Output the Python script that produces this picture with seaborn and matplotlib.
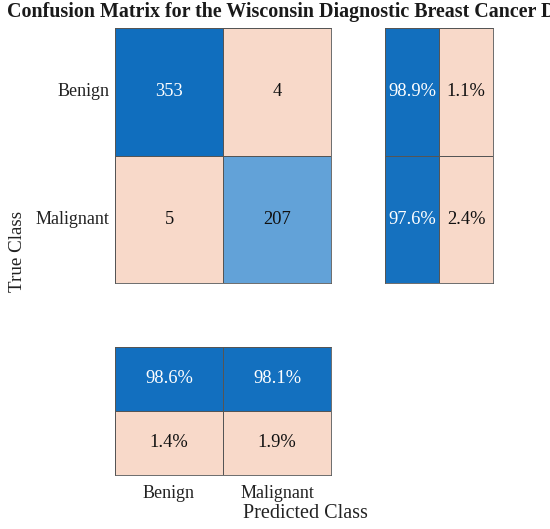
import numpy as np
import matplotlib
matplotlib.use("Agg")
import matplotlib.pyplot as plt
from matplotlib.colors import LinearSegmentedColormap, ListedColormap
import seaborn as sns

classes = ["Benign", "Malignant"]
counts = np.array([[353, 4],
                   [5, 207]])
# row summary (per true class): correct %, wrong %
row_correct = [98.9, 97.6]
row_wrong = [1.1, 2.4]
# column summary (per predicted class)
col_correct = [98.6, 98.1]
col_wrong = [1.4, 1.9]

title = "Confusion Matrix for the Wisconsin Diagnostic Breast Cancer Dataset"

sns.set_theme(style="white")
plt.rcParams["font.family"] = ["Liberation Serif", "DejaVu Serif"]

blue = LinearSegmentedColormap.from_list("cm_blue", ["#D6ECFD", "#106EBE"])
peach = ListedColormap(["#F8D9C9"])
edge = "#555555"
lw = 0.6
fs = 13.3


def draw_block(ax, values, good, labels, vmax):
    # good = True for the "correct" cells (blue), False for errors (peach)
    sns.heatmap(values, mask=~good, cmap=blue, vmin=0, vmax=vmax, cbar=False,
                annot=labels, fmt="", linewidths=lw, linecolor=edge,
                annot_kws={"fontsize": fs}, ax=ax)
    for t, v in zip(ax.texts, values[good]):
        t.set_color("white" if v > 0.8 * vmax else "#111111")
    sns.heatmap(values, mask=good, cmap=peach, cbar=False,
                annot=labels, fmt="", linewidths=lw, linecolor=edge,
                annot_kws={"fontsize": fs, "color": "#111111"}, ax=ax)
    for s in ax.spines.values():
        s.set_visible(True)
        s.set_color(edge)
        s.set_linewidth(lw)
    ax.tick_params(length=0)
    ax.set_xticks([])
    ax.set_yticks([])


fig = plt.figure(figsize=(5.5, 5.29), dpi=100)
ax_main = fig.add_axes([0.2091, 0.4650, 0.3927, 0.4820])
ax_row = fig.add_axes([0.7000, 0.4650, 0.1964, 0.4820])
ax_col = fig.add_axes([0.2091, 0.1021, 0.3927, 0.2420])

# main matrix
diag = np.eye(2, dtype=bool)
draw_block(ax_main, counts.astype(float), diag, counts.astype(str), counts.max())
ax_main.set_yticks([0.5, 1.5])
ax_main.set_yticklabels(classes, rotation=0, fontsize=13, color="#222222")
ax_main.tick_params(axis="y", pad=4)

# row summary
row_vals = np.column_stack([row_correct, row_wrong])
row_good = np.array([[True, False], [True, False]])
row_lbl = np.array([[f"{v:.1f}%" for v in r] for r in row_vals])
draw_block(ax_row, row_vals, row_good, row_lbl, 100)

# column summary
col_vals = np.vstack([col_correct, col_wrong])
col_good = np.array([[True, True], [False, False]])
col_lbl = np.array([[f"{v:.1f}%" for v in r] for r in col_vals])
draw_block(ax_col, col_vals, col_good, col_lbl, 100)
ax_col.set_xticks([0.5, 1.5])
ax_col.set_xticklabels(classes, fontsize=13, color="#222222")
ax_col.tick_params(axis="x", pad=7)

fig.text(7 / 550, 1 - 12 / 529, title, ha="left", va="center",
         fontsize=14.45, fontweight="bold", color="#1a1a1a")
fig.text(18 / 550, 1 - 251 / 529, "True Class", rotation=90, ha="center",
         va="center", fontsize=13.7, color="#222222")
fig.text(305 / 550, 1 - 514 / 529, "Predicted Class", ha="center",
         va="center", fontsize=14.5, color="#222222")

fig.savefig("out.png", dpi=100)
